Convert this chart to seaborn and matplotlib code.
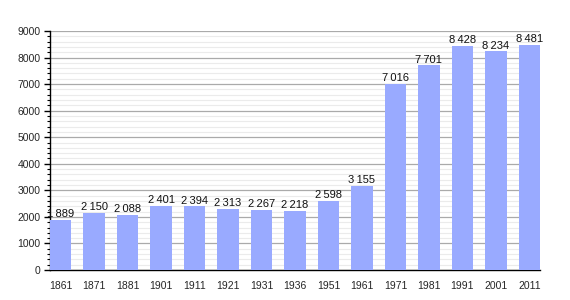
import matplotlib
matplotlib.use("Agg")
import matplotlib.pyplot as plt
import seaborn as sns
import pandas as pd
from matplotlib.ticker import MultipleLocator

years = ["1861", "1871", "1881", "1901", "1911", "1921", "1931", "1936",
         "1951", "1961", "1971", "1981", "1991", "2001", "2011"]
population = [1889, 2150, 2088, 2401, 2394, 2313, 2267, 2218,
              2598, 3155, 7016, 7701, 8428, 8234, 8481]

df = pd.DataFrame({"year": years, "pop": population})

sns.set_theme(style="white")
plt.rcParams['font.family'] = ['Liberation Sans', 'DejaVu Sans']

fig = plt.figure(figsize=(5.7, 3.0), dpi=100)
ax = fig.add_axes([50/570, 30/300, 490/570, 239/300])

ax.set_ylim(0, 9000)
ax.yaxis.set_major_locator(MultipleLocator(1000))
ax.yaxis.set_minor_locator(MultipleLocator(200))
ax.grid(which="minor", axis="y", color="#ebebeb", linewidth=0.8)
ax.grid(which="major", axis="y", color="#aaaaaa", linewidth=0.9)
ax.set_axisbelow(True)

sns.barplot(data=df, x="year", y="pop", color="#99aaff", saturation=1,
            width=0.64, linewidth=0, edgecolor="none", ax=ax, zorder=3)
ax.set_xlim(-0.32, len(years) - 1 + 0.32)

for i, v in enumerate(population):
    s = f"{v:,}".replace(",", "\u2009")
    ax.text(i, v + 30, s, ha="center", va="bottom", fontsize=8, color="#111111", zorder=4)

ax.set_xlabel("")
ax.set_ylabel("")
for side in ["top", "right"]:
    ax.spines[side].set_visible(False)
ax.spines["left"].set_color("black")
ax.spines["bottom"].set_color("black")
ax.spines["left"].set_linewidth(1)
ax.spines["bottom"].set_linewidth(1)
ax.tick_params(axis="y", which="major", left=True, length=4, width=1, color="black", labelsize=7.5, pad=3)
ax.tick_params(axis="y", which="minor", left=True, length=2.5, width=0.8, color="black")
ax.tick_params(axis="x", bottom=False, labelsize=7.5, pad=2)

fig.savefig("out.png", dpi=100)
